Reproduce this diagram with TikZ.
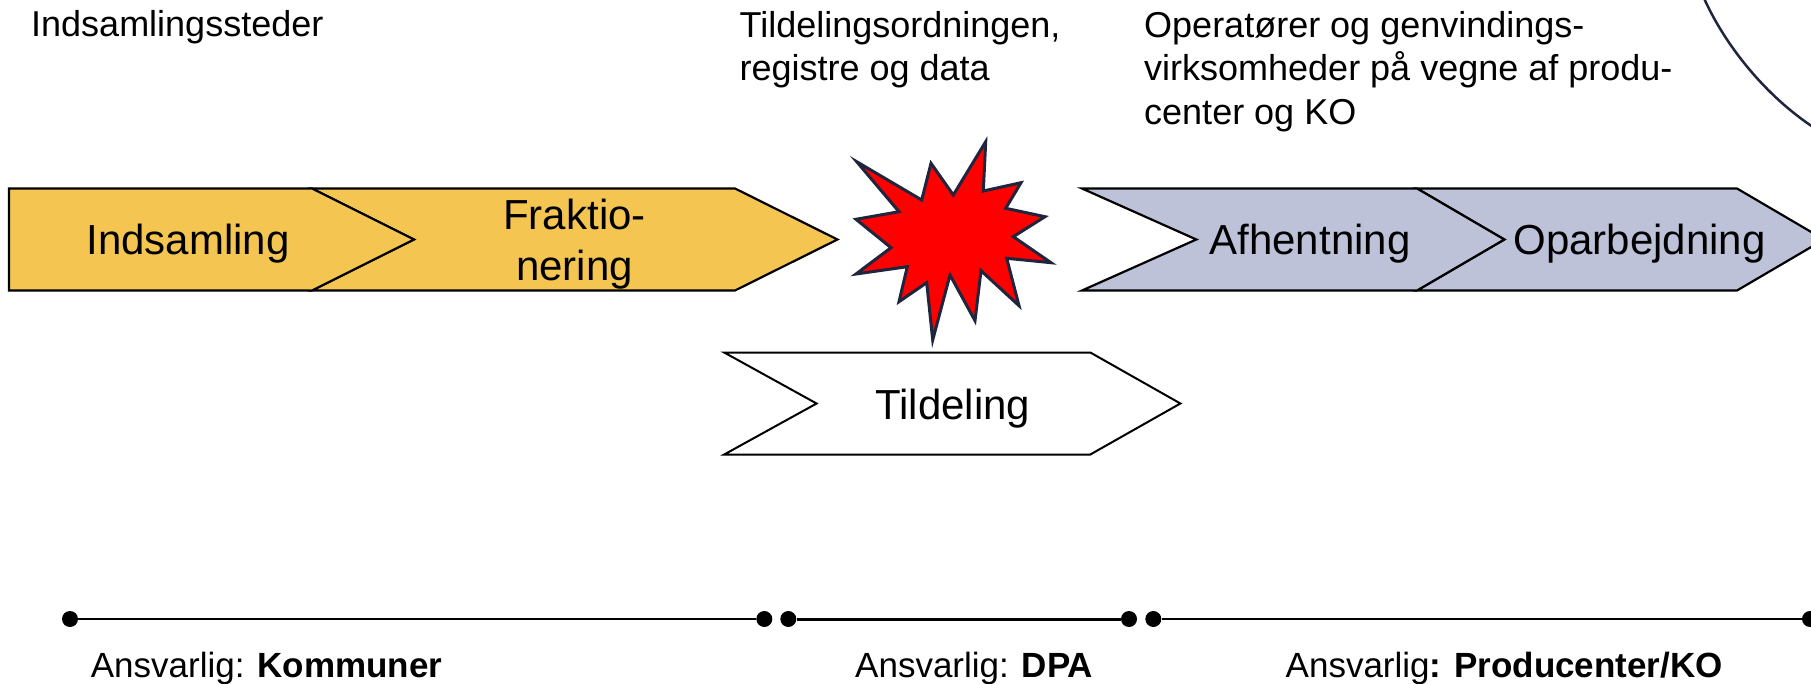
\documentclass[tikz,border=0pt]{standalone}
\usepackage{fontspec}
\setmainfont{Liberation Sans}
\definecolor{chevyellow}{RGB}{244,197,81}
\definecolor{chevblue}{RGB}{189,194,216}
\definecolor{navyline}{RGB}{32,37,62}
\definecolor{boomred}{RGB}{255,0,0}
\begin{document}
\begin{tikzpicture}[x=1pt,y=-1pt,
  chev/.style={draw=black,line width=2.2pt,line join=miter},
  yel/.style={chev,fill=chevyellow},
  blu/.style={chev,fill=chevblue},
  wht/.style={draw=black,line width=2pt,fill=white},
  boom/.style={draw=navyline,line width=3pt,fill=boomred,line join=miter},
  lbl/.style={inner sep=0pt,font=\fontsize{42}{51}\selectfont,text=black},
  note/.style={inner sep=0pt,anchor=north west,align=left,font=\fontsize{36}{43.5}\selectfont},
  resp/.style={inner sep=0pt,anchor=base west,font=\fontsize{35}{42}\selectfont},
  dot/.style={circle,fill=black,inner sep=0pt,minimum size=16pt},
  tline/.style={line width=2.5pt,draw=black},
  arcline/.style={draw=navyline,line width=2.5pt}
]
\useasboundingbox (0,0) rectangle (1811,684);
\fill[white] (0,0) rectangle (1811,684);
\clip (0,0) rectangle (1811,684);

% yellow chevrons
\draw[yel] (312,188.5) -- (735,188.5) -- (837.5,239.5) -- (735,290.5) -- (312,290.5) -- (414,239.5) -- cycle;
\draw[yel] (9,188.5) -- (312,188.5) -- (414,239.5) -- (312,290.5) -- (9,290.5) -- cycle;

% blue chevrons
\draw[blu] (1417,188.5) -- (1737,188.5) -- (1824,239.5) -- (1737,290.5) -- (1417,290.5) -- (1504.3,239.5) -- cycle;
\draw[blu] (1082,188.5) -- (1417,188.5) -- (1504.3,239.5) -- (1417,290.5) -- (1082,290.5) -- (1196.3,239.5) -- cycle;

% white chevron
\draw[wht] (724.2,352.5) -- (1090.3,352.5) -- (1180.4,403.5) -- (1090.3,454.5) -- (724.2,454.5) -- (816.6,403.5) -- cycle;

% explosion
\draw[boom] (856.7,161.7) -- (921.7,200) -- (931,163.3) -- (953.3,195) -- (985.7,141.7)
  -- (983.3,191) -- (1021,182.7) -- (1005.7,208.3) -- (1045,216.7) -- (1013.3,236.7)
  -- (1051,262.7) -- (1006.7,258.3) -- (1019,305.7) -- (981,270.7) -- (975,320.7)
  -- (950,275) -- (932.7,340) -- (926.7,282.7) -- (899,301.7) -- (907.3,266.7)
  -- (856,274) -- (891,247.7) -- (856,219.3) -- (899,211.7) -- cycle;

% arc at top right
\coordinate (arcA) at (1703,-4);
\coordinate (arcB) at (1816,129);
\draw[arcline] (arcA) .. controls (1724,44) and (1765,96) .. (arcB);

% chevron labels
\node[lbl,anchor=base] (indsamling) at (188,255) {Indsamling};
\node[lbl,anchor=north,align=center] (frak) at (574.5,199) {Fraktio-\\nering};
\node[lbl,anchor=base] (afh) at (1310,255) {Afhentning};
\node[lbl,anchor=base] (opa) at (1639.5,255) {Oparbejdning};
\node[lbl,anchor=base] (tild) at (952.7,419.3) {Tildeling};

% top notes
\node[inner sep=0pt,anchor=base west,font=\fontsize{36}{43.5}\selectfont] (steder) at (31,37) {Indsamlingssteder};
\node[note] (tildord) at (739.4,11) {Tildelingsordningen,\\registre og data};
\node[note] (oper) at (1144,11) {Operatører og genvindings-\\virksomheder på vegne af produ-\\center og KO};

% timeline
\node[dot] (d1) at (70,619) {};
\node[dot] (d2) at (764.3,619) {};
\node[dot] (d3) at (788.3,619) {};
\node[dot] (d4) at (1129,619) {};
\node[dot] (d5) at (1153.3,619) {};
\node[dot] (d6) at (1810,619) {};
\draw[tline] (d1) -- (d2);
\draw[tline,line width=3pt] (d3) -- (d4);
\draw[tline] (d5) -- (d6);

% responsible labels
\node[resp] (r1) at (90.7,677) {Ansvarlig: \textbf{Kommuner}};
\node[resp] (r2) at (855,677) {Ansvarlig: \textbf{DPA}};
\node[resp] (r3) at (1285.5,677) {Ansvarlig\textbf{: Producenter/KO}};
\end{tikzpicture}
\end{document}
